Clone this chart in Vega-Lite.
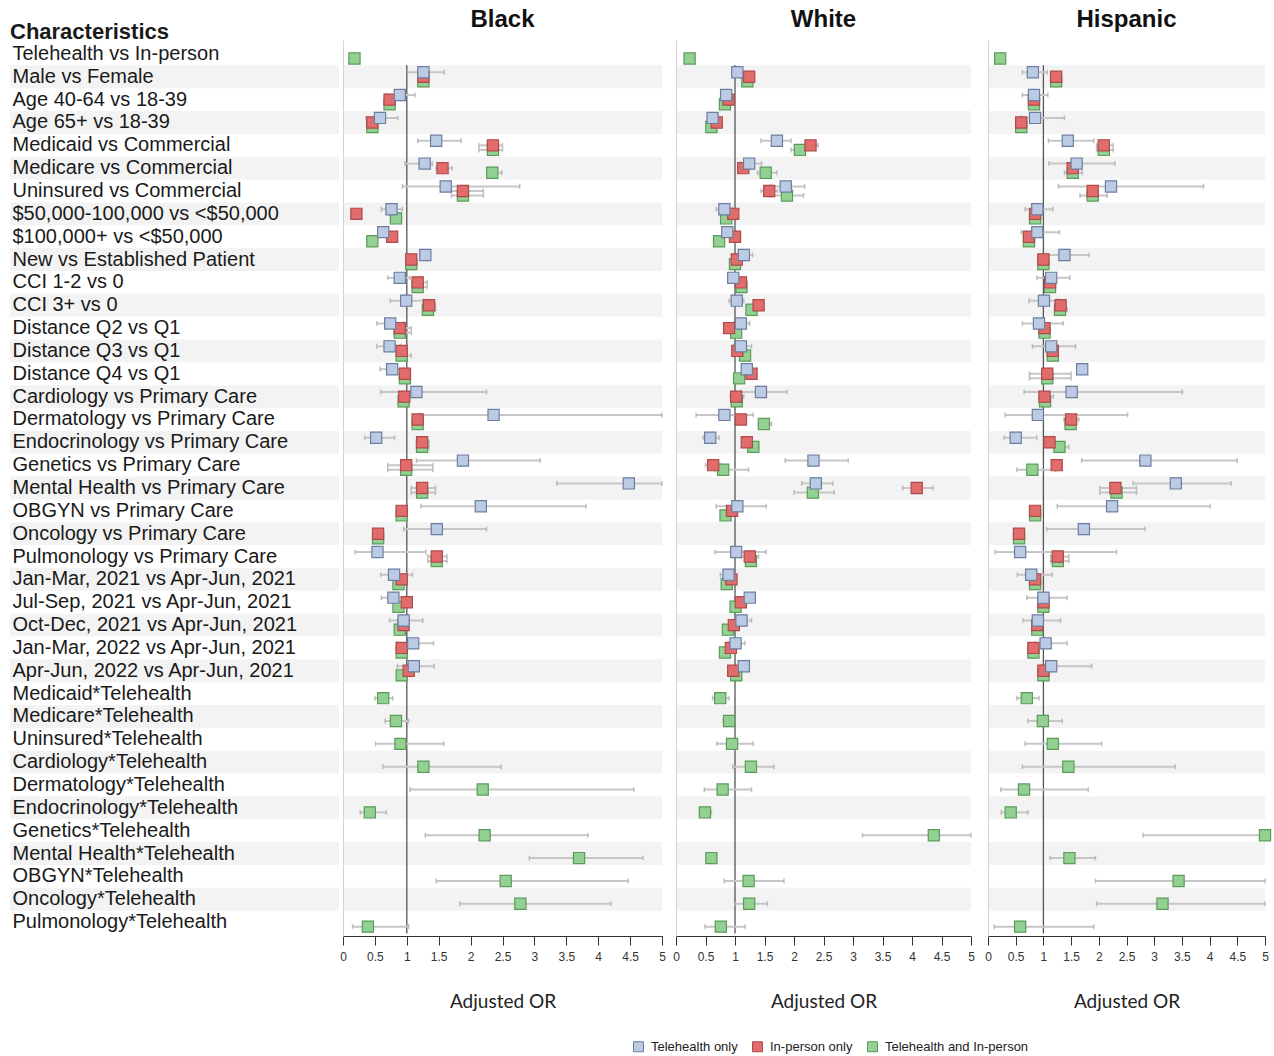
{
  "$schema": "https://vega.github.io/schema/vega-lite/v6.json",
  "padding": {"left": 10, "top": 8, "right": 5, "bottom": 5},
  "spacing": 6,
  "config": {
    "view": {"stroke": null},
    "axisX": {
      "format": "~g",
      "labelFont": "Liberation Sans",
      "labelFontSize": 12,
      "labelColor": "#333",
      "labelFlush": false,
      "labelOverlap": false,
      "labelBound": false,
      "labelPadding": 6,
      "tickColor": "#333",
      "tickSize": 9,
      "domainColor": "#333",
      "grid": false,
      "titleFont": "Lato",
      "titleFontSize": 19,
      "titleFontWeight": "normal",
      "titleColor": "#222",
      "titlePadding": 30
    },
    "title": {
      "font": "Liberation Sans",
      "fontSize": 24,
      "fontWeight": "bold",
      "color": "#111",
      "offset": 8
    }
  },
  "datasets": {
    "stripes": [
      {"c": "Male vs Female"}, {"c": "Age 65+ vs 18-39"}, {"c": "Medicare vs Commercial"},
      {"c": "$50,000-100,000 vs <$50,000"}, {"c": "New vs Established Patient"}, {"c": "CCI 3+ vs 0"},
      {"c": "Distance Q3 vs Q1"}, {"c": "Cardiology vs Primary Care"}, {"c": "Endocrinology vs Primary Care"},
      {"c": "Mental Health vs Primary Care"}, {"c": "Oncology vs Primary Care"}, {"c": "Jan-Mar, 2021 vs Apr-Jun, 2021"},
      {"c": "Oct-Dec, 2021 vs Apr-Jun, 2021"}, {"c": "Apr-Jun, 2022 vs Apr-Jun, 2021"}, {"c": "Medicare*Telehealth"},
      {"c": "Cardiology*Telehealth"}, {"c": "Endocrinology*Telehealth"}, {"c": "Mental Health*Telehealth"},
      {"c": "Oncology*Telehealth"}
    ],
    "black": [
      {"c": "Telehealth vs In-person", "s": "Telehealth and In-person", "or": 0.18},
      {"c": "Male vs Female", "s": "Telehealth and In-person", "or": 1.26, "lo": 1.2, "hi": 1.32},
      {"c": "Male vs Female", "s": "In-person only", "or": 1.26, "lo": 1.2, "hi": 1.32},
      {"c": "Male vs Female", "s": "Telehealth only", "or": 1.26, "lo": 1.01, "hi": 1.59},
      {"c": "Age 40-64 vs 18-39", "s": "Telehealth and In-person", "or": 0.73},
      {"c": "Age 40-64 vs 18-39", "s": "In-person only", "or": 0.73},
      {"c": "Age 40-64 vs 18-39", "s": "Telehealth only", "or": 0.89, "lo": 0.68, "hi": 1.13},
      {"c": "Age 65+ vs 18-39", "s": "Telehealth and In-person", "or": 0.46},
      {"c": "Age 65+ vs 18-39", "s": "In-person only", "or": 0.46},
      {"c": "Age 65+ vs 18-39", "s": "Telehealth only", "or": 0.58, "lo": 0.36, "hi": 0.86},
      {"c": "Medicaid vs Commercial", "s": "Telehealth and In-person", "or": 2.35, "lo": 2.13, "hi": 2.5},
      {"c": "Medicaid vs Commercial", "s": "In-person only", "or": 2.35, "lo": 2.13, "hi": 2.5},
      {"c": "Medicaid vs Commercial", "s": "Telehealth only", "or": 1.46, "lo": 1.17, "hi": 1.85},
      {"c": "Medicare vs Commercial", "s": "Telehealth and In-person", "or": 2.34, "lo": 2.27, "hi": 2.49},
      {"c": "Medicare vs Commercial", "s": "In-person only", "or": 1.56, "lo": 1.46, "hi": 1.71},
      {"c": "Medicare vs Commercial", "s": "Telehealth only", "or": 1.28, "lo": 0.97, "hi": 1.4},
      {"c": "Uninsured vs Commercial", "s": "Telehealth and In-person", "or": 1.88, "lo": 1.7, "hi": 2.2},
      {"c": "Uninsured vs Commercial", "s": "In-person only", "or": 1.88, "lo": 1.7, "hi": 2.2},
      {"c": "Uninsured vs Commercial", "s": "Telehealth only", "or": 1.61, "lo": 0.93, "hi": 2.77},
      {"c": "$50,000-100,000 vs <$50,000", "s": "Telehealth and In-person", "or": 0.83, "lo": 0.76, "hi": 0.92},
      {"c": "$50,000-100,000 vs <$50,000", "s": "In-person only", "or": 0.21},
      {"c": "$50,000-100,000 vs <$50,000", "s": "Telehealth only", "or": 0.76, "lo": 0.6, "hi": 0.93},
      {"c": "$100,000+ vs <$50,000", "s": "Telehealth and In-person", "or": 0.46},
      {"c": "$100,000+ vs <$50,000", "s": "In-person only", "or": 0.77},
      {"c": "$100,000+ vs <$50,000", "s": "Telehealth only", "or": 0.63},
      {"c": "New vs Established Patient", "s": "Telehealth and In-person", "or": 1.07},
      {"c": "New vs Established Patient", "s": "In-person only", "or": 1.07},
      {"c": "New vs Established Patient", "s": "Telehealth only", "or": 1.29},
      {"c": "CCI 1-2 vs 0", "s": "Telehealth and In-person", "or": 1.17, "lo": 1.1, "hi": 1.32},
      {"c": "CCI 1-2 vs 0", "s": "In-person only", "or": 1.17, "lo": 1.1, "hi": 1.32},
      {"c": "CCI 1-2 vs 0", "s": "Telehealth only", "or": 0.89, "lo": 0.7, "hi": 1.05},
      {"c": "CCI 3+ vs 0", "s": "Telehealth and In-person", "or": 1.33, "lo": 1.25, "hi": 1.45},
      {"c": "CCI 3+ vs 0", "s": "In-person only", "or": 1.35, "lo": 1.27, "hi": 1.45},
      {"c": "CCI 3+ vs 0", "s": "Telehealth only", "or": 0.99, "lo": 0.74, "hi": 1.25},
      {"c": "Distance Q2 vs Q1", "s": "Telehealth and In-person", "or": 0.89, "lo": 0.8, "hi": 1.07},
      {"c": "Distance Q2 vs Q1", "s": "In-person only", "or": 0.89, "lo": 0.8, "hi": 1.07},
      {"c": "Distance Q2 vs Q1", "s": "Telehealth only", "or": 0.74, "lo": 0.53, "hi": 0.95},
      {"c": "Distance Q3 vs Q1", "s": "Telehealth and In-person", "or": 0.92, "lo": 0.85, "hi": 1.07},
      {"c": "Distance Q3 vs Q1", "s": "In-person only", "or": 0.92},
      {"c": "Distance Q3 vs Q1", "s": "Telehealth only", "or": 0.73, "lo": 0.53, "hi": 0.9},
      {"c": "Distance Q4 vs Q1", "s": "Telehealth and In-person", "or": 0.97},
      {"c": "Distance Q4 vs Q1", "s": "In-person only", "or": 0.97, "lo": 0.9, "hi": 1.05},
      {"c": "Distance Q4 vs Q1", "s": "Telehealth only", "or": 0.77, "lo": 0.58, "hi": 0.95},
      {"c": "Cardiology vs Primary Care", "s": "Telehealth and In-person", "or": 0.95, "lo": 0.9, "hi": 1.02},
      {"c": "Cardiology vs Primary Care", "s": "In-person only", "or": 0.96},
      {"c": "Cardiology vs Primary Care", "s": "Telehealth only", "or": 1.15, "lo": 0.59, "hi": 2.25},
      {"c": "Dermatology vs Primary Care", "s": "Telehealth and In-person", "or": 1.17, "lo": 1.1, "hi": 1.25},
      {"c": "Dermatology vs Primary Care", "s": "In-person only", "or": 1.17},
      {"c": "Dermatology vs Primary Care", "s": "Telehealth only", "or": 2.36, "lo": 1.2, "hi": 5.0},
      {"c": "Endocrinology vs Primary Care", "s": "Telehealth and In-person", "or": 1.24, "lo": 1.15, "hi": 1.35},
      {"c": "Endocrinology vs Primary Care", "s": "In-person only", "or": 1.24, "lo": 1.15, "hi": 1.35},
      {"c": "Endocrinology vs Primary Care", "s": "Telehealth only", "or": 0.52, "lo": 0.34, "hi": 0.81},
      {"c": "Genetics vs Primary Care", "s": "Telehealth and In-person", "or": 0.99, "lo": 0.7, "hi": 1.41},
      {"c": "Genetics vs Primary Care", "s": "In-person only", "or": 0.99, "lo": 0.7, "hi": 1.41},
      {"c": "Genetics vs Primary Care", "s": "Telehealth only", "or": 1.88, "lo": 1.15, "hi": 3.09},
      {"c": "Mental Health vs Primary Care", "s": "Telehealth and In-person", "or": 1.24, "lo": 1.07, "hi": 1.45},
      {"c": "Mental Health vs Primary Care", "s": "In-person only", "or": 1.24, "lo": 1.07, "hi": 1.45},
      {"c": "Mental Health vs Primary Care", "s": "Telehealth only", "or": 4.48, "lo": 3.35, "hi": 5.0},
      {"c": "OBGYN vs Primary Care", "s": "Telehealth and In-person", "or": 0.92},
      {"c": "OBGYN vs Primary Care", "s": "In-person only", "or": 0.92},
      {"c": "OBGYN vs Primary Care", "s": "Telehealth only", "or": 2.16, "lo": 1.22, "hi": 3.81},
      {"c": "Oncology vs Primary Care", "s": "Telehealth and In-person", "or": 0.55},
      {"c": "Oncology vs Primary Care", "s": "In-person only", "or": 0.55},
      {"c": "Oncology vs Primary Care", "s": "Telehealth only", "or": 1.47, "lo": 0.95, "hi": 2.25},
      {"c": "Pulmonology vs Primary Care", "s": "Telehealth and In-person", "or": 1.47, "lo": 1.33, "hi": 1.63},
      {"c": "Pulmonology vs Primary Care", "s": "In-person only", "or": 1.47, "lo": 1.33, "hi": 1.63},
      {"c": "Pulmonology vs Primary Care", "s": "Telehealth only", "or": 0.54, "lo": 0.19, "hi": 1.3},
      {"c": "Jan-Mar, 2021 vs Apr-Jun, 2021", "s": "Telehealth and In-person", "or": 0.87, "lo": 0.8, "hi": 0.95},
      {"c": "Jan-Mar, 2021 vs Apr-Jun, 2021", "s": "In-person only", "or": 0.92, "lo": 0.85, "hi": 1.0},
      {"c": "Jan-Mar, 2021 vs Apr-Jun, 2021", "s": "Telehealth only", "or": 0.8, "lo": 0.59, "hi": 1.09},
      {"c": "Jul-Sep, 2021 vs Apr-Jun, 2021", "s": "Telehealth and In-person", "or": 0.87},
      {"c": "Jul-Sep, 2021 vs Apr-Jun, 2021", "s": "In-person only", "or": 1.0},
      {"c": "Jul-Sep, 2021 vs Apr-Jun, 2021", "s": "Telehealth only", "or": 0.79, "lo": 0.6, "hi": 0.98},
      {"c": "Oct-Dec, 2021 vs Apr-Jun, 2021", "s": "Telehealth and In-person", "or": 0.89},
      {"c": "Oct-Dec, 2021 vs Apr-Jun, 2021", "s": "In-person only", "or": 0.95},
      {"c": "Oct-Dec, 2021 vs Apr-Jun, 2021", "s": "Telehealth only", "or": 0.95, "lo": 0.73, "hi": 1.25},
      {"c": "Jan-Mar, 2022 vs Apr-Jun, 2021", "s": "Telehealth and In-person", "or": 0.92},
      {"c": "Jan-Mar, 2022 vs Apr-Jun, 2021", "s": "In-person only", "or": 0.92},
      {"c": "Jan-Mar, 2022 vs Apr-Jun, 2021", "s": "Telehealth only", "or": 1.1, "lo": 0.85, "hi": 1.42},
      {"c": "Apr-Jun, 2022 vs Apr-Jun, 2021", "s": "Telehealth and In-person", "or": 0.92},
      {"c": "Apr-Jun, 2022 vs Apr-Jun, 2021", "s": "In-person only", "or": 1.03},
      {"c": "Apr-Jun, 2022 vs Apr-Jun, 2021", "s": "Telehealth only", "or": 1.11, "lo": 0.85, "hi": 1.43},
      {"c": "Medicaid*Telehealth", "s": "Telehealth and In-person", "or": 0.63, "lo": 0.5, "hi": 0.78},
      {"c": "Medicare*Telehealth", "s": "Telehealth and In-person", "or": 0.83, "lo": 0.66, "hi": 1.03},
      {"c": "Uninsured*Telehealth", "s": "Telehealth and In-person", "or": 0.9, "lo": 0.51, "hi": 1.58},
      {"c": "Cardiology*Telehealth", "s": "Telehealth and In-person", "or": 1.26, "lo": 0.63, "hi": 2.48},
      {"c": "Dermatology*Telehealth", "s": "Telehealth and In-person", "or": 2.19, "lo": 1.05, "hi": 4.56},
      {"c": "Endocrinology*Telehealth", "s": "Telehealth and In-person", "or": 0.42, "lo": 0.27, "hi": 0.68},
      {"c": "Genetics*Telehealth", "s": "Telehealth and In-person", "or": 2.22, "lo": 1.29, "hi": 3.84},
      {"c": "Mental Health*Telehealth", "s": "Telehealth and In-person", "or": 3.7, "lo": 2.92, "hi": 4.7},
      {"c": "OBGYN*Telehealth", "s": "Telehealth and In-person", "or": 2.55, "lo": 1.46, "hi": 4.47},
      {"c": "Oncology*Telehealth", "s": "Telehealth and In-person", "or": 2.78, "lo": 1.83, "hi": 4.2},
      {"c": "Pulmonology*Telehealth", "s": "Telehealth and In-person", "or": 0.39, "lo": 0.15, "hi": 1.03}
    ],
    "white": [
      {"c": "Telehealth vs In-person", "s": "Telehealth and In-person", "or": 0.23},
      {"c": "Male vs Female", "s": "Telehealth and In-person", "or": 1.21},
      {"c": "Male vs Female", "s": "In-person only", "or": 1.24},
      {"c": "Male vs Female", "s": "Telehealth only", "or": 1.04, "lo": 0.95, "hi": 1.1},
      {"c": "Age 40-64 vs 18-39", "s": "Telehealth and In-person", "or": 0.83},
      {"c": "Age 40-64 vs 18-39", "s": "In-person only", "or": 0.89},
      {"c": "Age 40-64 vs 18-39", "s": "Telehealth only", "or": 0.85},
      {"c": "Age 65+ vs 18-39", "s": "Telehealth and In-person", "or": 0.6},
      {"c": "Age 65+ vs 18-39", "s": "In-person only", "or": 0.69},
      {"c": "Age 65+ vs 18-39", "s": "Telehealth only", "or": 0.62, "lo": 0.55, "hi": 0.68},
      {"c": "Medicaid vs Commercial", "s": "Telehealth and In-person", "or": 2.1, "lo": 1.95, "hi": 2.2},
      {"c": "Medicaid vs Commercial", "s": "In-person only", "or": 2.28, "lo": 2.21, "hi": 2.41},
      {"c": "Medicaid vs Commercial", "s": "Telehealth only", "or": 1.71, "lo": 1.44, "hi": 1.95},
      {"c": "Medicare vs Commercial", "s": "Telehealth and In-person", "or": 1.52, "lo": 1.38, "hi": 1.71},
      {"c": "Medicare vs Commercial", "s": "In-person only", "or": 1.14, "lo": 1.05, "hi": 1.25},
      {"c": "Medicare vs Commercial", "s": "Telehealth only", "or": 1.24, "lo": 1.1, "hi": 1.45},
      {"c": "Uninsured vs Commercial", "s": "Telehealth and In-person", "or": 1.88, "lo": 1.6, "hi": 2.16},
      {"c": "Uninsured vs Commercial", "s": "In-person only", "or": 1.58, "lo": 1.44, "hi": 1.72},
      {"c": "Uninsured vs Commercial", "s": "Telehealth only", "or": 1.86, "lo": 1.6, "hi": 2.18},
      {"c": "$50,000-100,000 vs <$50,000", "s": "Telehealth and In-person", "or": 0.85},
      {"c": "$50,000-100,000 vs <$50,000", "s": "In-person only", "or": 0.97},
      {"c": "$50,000-100,000 vs <$50,000", "s": "Telehealth only", "or": 0.82, "lo": 0.68, "hi": 0.95},
      {"c": "$100,000+ vs <$50,000", "s": "Telehealth and In-person", "or": 0.73},
      {"c": "$100,000+ vs <$50,000", "s": "In-person only", "or": 1.0},
      {"c": "$100,000+ vs <$50,000", "s": "Telehealth only", "or": 0.87},
      {"c": "New vs Established Patient", "s": "Telehealth and In-person", "or": 1.0},
      {"c": "New vs Established Patient", "s": "In-person only", "or": 1.03},
      {"c": "New vs Established Patient", "s": "Telehealth only", "or": 1.15, "lo": 1.05, "hi": 1.3},
      {"c": "CCI 1-2 vs 0", "s": "Telehealth and In-person", "or": 1.11},
      {"c": "CCI 1-2 vs 0", "s": "In-person only", "or": 1.1},
      {"c": "CCI 1-2 vs 0", "s": "Telehealth only", "or": 0.97},
      {"c": "CCI 3+ vs 0", "s": "Telehealth and In-person", "or": 1.28},
      {"c": "CCI 3+ vs 0", "s": "In-person only", "or": 1.4},
      {"c": "CCI 3+ vs 0", "s": "Telehealth only", "or": 1.03, "lo": 0.9, "hi": 1.15},
      {"c": "Distance Q2 vs Q1", "s": "Telehealth and In-person", "or": 1.02},
      {"c": "Distance Q2 vs Q1", "s": "In-person only", "or": 0.9},
      {"c": "Distance Q2 vs Q1", "s": "Telehealth only", "or": 1.1, "lo": 0.98, "hi": 1.25},
      {"c": "Distance Q3 vs Q1", "s": "Telehealth and In-person", "or": 1.17},
      {"c": "Distance Q3 vs Q1", "s": "In-person only", "or": 1.04},
      {"c": "Distance Q3 vs Q1", "s": "Telehealth only", "or": 1.1, "lo": 0.98, "hi": 1.28},
      {"c": "Distance Q4 vs Q1", "s": "Telehealth and In-person", "or": 1.07},
      {"c": "Distance Q4 vs Q1", "s": "In-person only", "or": 1.28},
      {"c": "Distance Q4 vs Q1", "s": "Telehealth only", "or": 1.2},
      {"c": "Cardiology vs Primary Care", "s": "Telehealth and In-person", "or": 1.03},
      {"c": "Cardiology vs Primary Care", "s": "In-person only", "or": 1.02, "lo": 0.92, "hi": 1.15},
      {"c": "Cardiology vs Primary Care", "s": "Telehealth only", "or": 1.44, "lo": 1.1, "hi": 1.88},
      {"c": "Dermatology vs Primary Care", "s": "Telehealth and In-person", "or": 1.49, "lo": 1.4, "hi": 1.62},
      {"c": "Dermatology vs Primary Care", "s": "In-person only", "or": 1.1},
      {"c": "Dermatology vs Primary Care", "s": "Telehealth only", "or": 0.82, "lo": 0.34, "hi": 1.31},
      {"c": "Endocrinology vs Primary Care", "s": "Telehealth and In-person", "or": 1.31, "lo": 1.25, "hi": 1.4},
      {"c": "Endocrinology vs Primary Care", "s": "In-person only", "or": 1.2},
      {"c": "Endocrinology vs Primary Care", "s": "Telehealth only", "or": 0.58, "lo": 0.46, "hi": 0.73},
      {"c": "Genetics vs Primary Care", "s": "Telehealth and In-person", "or": 0.8, "lo": 0.65, "hi": 1.23},
      {"c": "Genetics vs Primary Care", "s": "In-person only", "or": 0.63, "lo": 0.5, "hi": 0.75},
      {"c": "Genetics vs Primary Care", "s": "Telehealth only", "or": 2.33, "lo": 1.85, "hi": 2.92},
      {"c": "Mental Health vs Primary Care", "s": "Telehealth and In-person", "or": 2.32, "lo": 2.0, "hi": 2.68},
      {"c": "Mental Health vs Primary Care", "s": "In-person only", "or": 4.08, "lo": 3.84, "hi": 4.36},
      {"c": "Mental Health vs Primary Care", "s": "Telehealth only", "or": 2.37, "lo": 2.13, "hi": 2.66},
      {"c": "OBGYN vs Primary Care", "s": "Telehealth and In-person", "or": 0.84},
      {"c": "OBGYN vs Primary Care", "s": "In-person only", "or": 0.95},
      {"c": "OBGYN vs Primary Care", "s": "Telehealth only", "or": 1.04, "lo": 0.68, "hi": 1.53},
      {"c": "Pulmonology vs Primary Care", "s": "Telehealth and In-person", "or": 1.27},
      {"c": "Pulmonology vs Primary Care", "s": "In-person only", "or": 1.25, "lo": 1.1, "hi": 1.4},
      {"c": "Pulmonology vs Primary Care", "s": "Telehealth only", "or": 1.02, "lo": 0.66, "hi": 1.53},
      {"c": "Jan-Mar, 2021 vs Apr-Jun, 2021", "s": "Telehealth and In-person", "or": 0.86},
      {"c": "Jan-Mar, 2021 vs Apr-Jun, 2021", "s": "In-person only", "or": 0.94},
      {"c": "Jan-Mar, 2021 vs Apr-Jun, 2021", "s": "Telehealth only", "or": 0.89, "lo": 0.75, "hi": 1.0},
      {"c": "Jul-Sep, 2021 vs Apr-Jun, 2021", "s": "Telehealth and In-person", "or": 1.01},
      {"c": "Jul-Sep, 2021 vs Apr-Jun, 2021", "s": "In-person only", "or": 1.1},
      {"c": "Jul-Sep, 2021 vs Apr-Jun, 2021", "s": "Telehealth only", "or": 1.25},
      {"c": "Oct-Dec, 2021 vs Apr-Jun, 2021", "s": "Telehealth and In-person", "or": 0.88},
      {"c": "Oct-Dec, 2021 vs Apr-Jun, 2021", "s": "In-person only", "or": 0.98},
      {"c": "Oct-Dec, 2021 vs Apr-Jun, 2021", "s": "Telehealth only", "or": 1.11, "lo": 1.0, "hi": 1.28},
      {"c": "Jan-Mar, 2022 vs Apr-Jun, 2021", "s": "Telehealth and In-person", "or": 0.83},
      {"c": "Jan-Mar, 2022 vs Apr-Jun, 2021", "s": "In-person only", "or": 0.93},
      {"c": "Jan-Mar, 2022 vs Apr-Jun, 2021", "s": "Telehealth only", "or": 1.01, "lo": 0.9, "hi": 1.17},
      {"c": "Apr-Jun, 2022 vs Apr-Jun, 2021", "s": "Telehealth and In-person", "or": 1.02},
      {"c": "Apr-Jun, 2022 vs Apr-Jun, 2021", "s": "In-person only", "or": 0.97},
      {"c": "Apr-Jun, 2022 vs Apr-Jun, 2021", "s": "Telehealth only", "or": 1.15},
      {"c": "Medicaid*Telehealth", "s": "Telehealth and In-person", "or": 0.75, "lo": 0.62, "hi": 0.9},
      {"c": "Medicare*Telehealth", "s": "Telehealth and In-person", "or": 0.9, "lo": 0.8, "hi": 1.0},
      {"c": "Uninsured*Telehealth", "s": "Telehealth and In-person", "or": 0.95, "lo": 0.69, "hi": 1.31},
      {"c": "Cardiology*Telehealth", "s": "Telehealth and In-person", "or": 1.27, "lo": 0.96, "hi": 1.66},
      {"c": "Dermatology*Telehealth", "s": "Telehealth and In-person", "or": 0.79, "lo": 0.48, "hi": 1.28},
      {"c": "Endocrinology*Telehealth", "s": "Telehealth and In-person", "or": 0.49, "lo": 0.4, "hi": 0.6},
      {"c": "Genetics*Telehealth", "s": "Telehealth and In-person", "or": 4.37, "lo": 3.16, "hi": 5.0},
      {"c": "Mental Health*Telehealth", "s": "Telehealth and In-person", "or": 0.6},
      {"c": "OBGYN*Telehealth", "s": "Telehealth and In-person", "or": 1.23, "lo": 0.82, "hi": 1.83},
      {"c": "Oncology*Telehealth", "s": "Telehealth and In-person", "or": 1.24, "lo": 1.0, "hi": 1.55},
      {"c": "Pulmonology*Telehealth", "s": "Telehealth and In-person", "or": 0.76, "lo": 0.49, "hi": 1.17}
    ],
    "hispanic": [
      {"c": "Telehealth vs In-person", "s": "Telehealth and In-person", "or": 0.22},
      {"c": "Male vs Female", "s": "Telehealth and In-person", "or": 1.23},
      {"c": "Male vs Female", "s": "In-person only", "or": 1.23},
      {"c": "Male vs Female", "s": "Telehealth only", "or": 0.81, "lo": 0.62, "hi": 1.07},
      {"c": "Age 40-64 vs 18-39", "s": "Telehealth and In-person", "or": 0.83},
      {"c": "Age 40-64 vs 18-39", "s": "In-person only", "or": 0.83},
      {"c": "Age 40-64 vs 18-39", "s": "Telehealth only", "or": 0.83, "lo": 0.62, "hi": 1.08},
      {"c": "Age 65+ vs 18-39", "s": "Telehealth and In-person", "or": 0.6},
      {"c": "Age 65+ vs 18-39", "s": "In-person only", "or": 0.6},
      {"c": "Age 65+ vs 18-39", "s": "Telehealth only", "or": 0.85, "lo": 0.6, "hi": 1.38},
      {"c": "Medicaid vs Commercial", "s": "Telehealth and In-person", "or": 2.09, "lo": 1.96, "hi": 2.26},
      {"c": "Medicaid vs Commercial", "s": "In-person only", "or": 2.09, "lo": 1.96, "hi": 2.26},
      {"c": "Medicaid vs Commercial", "s": "Telehealth only", "or": 1.44, "lo": 1.09, "hi": 1.91},
      {"c": "Medicare vs Commercial", "s": "Telehealth and In-person", "or": 1.53, "lo": 1.38, "hi": 1.7},
      {"c": "Medicare vs Commercial", "s": "In-person only", "or": 1.53},
      {"c": "Medicare vs Commercial", "s": "Telehealth only", "or": 1.6, "lo": 1.1, "hi": 2.29},
      {"c": "Uninsured vs Commercial", "s": "Telehealth and In-person", "or": 1.89, "lo": 1.66, "hi": 2.15},
      {"c": "Uninsured vs Commercial", "s": "In-person only", "or": 1.89},
      {"c": "Uninsured vs Commercial", "s": "Telehealth only", "or": 2.22, "lo": 1.27, "hi": 3.89},
      {"c": "$50,000-100,000 vs <$50,000", "s": "Telehealth and In-person", "or": 0.85},
      {"c": "$50,000-100,000 vs <$50,000", "s": "In-person only", "or": 0.85},
      {"c": "$50,000-100,000 vs <$50,000", "s": "Telehealth only", "or": 0.89, "lo": 0.67, "hi": 1.17},
      {"c": "$100,000+ vs <$50,000", "s": "Telehealth and In-person", "or": 0.74},
      {"c": "$100,000+ vs <$50,000", "s": "In-person only", "or": 0.74},
      {"c": "$100,000+ vs <$50,000", "s": "Telehealth only", "or": 0.89, "lo": 0.6, "hi": 1.29},
      {"c": "New vs Established Patient", "s": "Telehealth and In-person", "or": 1.0},
      {"c": "New vs Established Patient", "s": "In-person only", "or": 1.0},
      {"c": "New vs Established Patient", "s": "Telehealth only", "or": 1.38, "lo": 1.05, "hi": 1.82},
      {"c": "CCI 1-2 vs 0", "s": "Telehealth and In-person", "or": 1.12},
      {"c": "CCI 1-2 vs 0", "s": "In-person only", "or": 1.12},
      {"c": "CCI 1-2 vs 0", "s": "Telehealth only", "or": 1.14, "lo": 0.88, "hi": 1.48},
      {"c": "CCI 3+ vs 0", "s": "Telehealth and In-person", "or": 1.3, "lo": 1.24, "hi": 1.43},
      {"c": "CCI 3+ vs 0", "s": "In-person only", "or": 1.31},
      {"c": "CCI 3+ vs 0", "s": "Telehealth only", "or": 1.01, "lo": 0.74, "hi": 1.25},
      {"c": "Distance Q2 vs Q1", "s": "Telehealth and In-person", "or": 1.02},
      {"c": "Distance Q2 vs Q1", "s": "In-person only", "or": 1.02},
      {"c": "Distance Q2 vs Q1", "s": "Telehealth only", "or": 0.92, "lo": 0.62, "hi": 1.36},
      {"c": "Distance Q3 vs Q1", "s": "Telehealth and In-person", "or": 1.17},
      {"c": "Distance Q3 vs Q1", "s": "In-person only", "or": 1.17},
      {"c": "Distance Q3 vs Q1", "s": "Telehealth only", "or": 1.14, "lo": 0.8, "hi": 1.58},
      {"c": "Distance Q4 vs Q1", "s": "Telehealth and In-person", "or": 1.07, "lo": 0.75, "hi": 1.5},
      {"c": "Distance Q4 vs Q1", "s": "In-person only", "or": 1.07, "lo": 0.75, "hi": 1.5},
      {"c": "Distance Q4 vs Q1", "s": "Telehealth only", "or": 1.7},
      {"c": "Cardiology vs Primary Care", "s": "Telehealth and In-person", "or": 1.03},
      {"c": "Cardiology vs Primary Care", "s": "In-person only", "or": 1.02, "lo": 0.92, "hi": 1.18},
      {"c": "Cardiology vs Primary Care", "s": "Telehealth only", "or": 1.51, "lo": 0.65, "hi": 3.51},
      {"c": "Dermatology vs Primary Care", "s": "Telehealth and In-person", "or": 1.49},
      {"c": "Dermatology vs Primary Care", "s": "In-person only", "or": 1.5, "lo": 1.37, "hi": 1.64},
      {"c": "Dermatology vs Primary Care", "s": "Telehealth only", "or": 0.9, "lo": 0.31, "hi": 2.52},
      {"c": "Endocrinology vs Primary Care", "s": "Telehealth and In-person", "or": 1.29, "lo": 1.2, "hi": 1.46},
      {"c": "Endocrinology vs Primary Care", "s": "In-person only", "or": 1.11},
      {"c": "Endocrinology vs Primary Care", "s": "Telehealth only", "or": 0.5, "lo": 0.29, "hi": 0.88},
      {"c": "Genetics vs Primary Care", "s": "Telehealth and In-person", "or": 0.8, "lo": 0.52, "hi": 1.22},
      {"c": "Genetics vs Primary Care", "s": "In-person only", "or": 1.24},
      {"c": "Genetics vs Primary Care", "s": "Telehealth only", "or": 2.84, "lo": 1.69, "hi": 4.5},
      {"c": "Mental Health vs Primary Care", "s": "Telehealth and In-person", "or": 2.32, "lo": 2.02, "hi": 2.68},
      {"c": "Mental Health vs Primary Care", "s": "In-person only", "or": 2.3, "lo": 2.02, "hi": 2.68},
      {"c": "Mental Health vs Primary Care", "s": "Telehealth only", "or": 3.39, "lo": 2.62, "hi": 4.39},
      {"c": "OBGYN vs Primary Care", "s": "Telehealth and In-person", "or": 0.85},
      {"c": "OBGYN vs Primary Care", "s": "In-person only", "or": 0.85},
      {"c": "OBGYN vs Primary Care", "s": "Telehealth only", "or": 2.24, "lo": 1.25, "hi": 4.01},
      {"c": "Oncology vs Primary Care", "s": "Telehealth and In-person", "or": 0.56},
      {"c": "Oncology vs Primary Care", "s": "In-person only", "or": 0.56},
      {"c": "Oncology vs Primary Care", "s": "Telehealth only", "or": 1.73, "lo": 1.06, "hi": 2.83},
      {"c": "Pulmonology vs Primary Care", "s": "Telehealth and In-person", "or": 1.26, "lo": 1.13, "hi": 1.46},
      {"c": "Pulmonology vs Primary Care", "s": "In-person only", "or": 1.26, "lo": 1.13, "hi": 1.46},
      {"c": "Pulmonology vs Primary Care", "s": "Telehealth only", "or": 0.58, "lo": 0.13, "hi": 2.32},
      {"c": "Jan-Mar, 2021 vs Apr-Jun, 2021", "s": "Telehealth and In-person", "or": 0.85},
      {"c": "Jan-Mar, 2021 vs Apr-Jun, 2021", "s": "In-person only", "or": 0.85},
      {"c": "Jan-Mar, 2021 vs Apr-Jun, 2021", "s": "Telehealth only", "or": 0.78, "lo": 0.53, "hi": 1.16},
      {"c": "Jul-Sep, 2021 vs Apr-Jun, 2021", "s": "Telehealth and In-person", "or": 1.0},
      {"c": "Jul-Sep, 2021 vs Apr-Jun, 2021", "s": "In-person only", "or": 1.0},
      {"c": "Jul-Sep, 2021 vs Apr-Jun, 2021", "s": "Telehealth only", "or": 1.0, "lo": 0.7, "hi": 1.43},
      {"c": "Oct-Dec, 2021 vs Apr-Jun, 2021", "s": "Telehealth and In-person", "or": 0.89},
      {"c": "Oct-Dec, 2021 vs Apr-Jun, 2021", "s": "In-person only", "or": 0.89},
      {"c": "Oct-Dec, 2021 vs Apr-Jun, 2021", "s": "Telehealth only", "or": 0.9, "lo": 0.63, "hi": 1.31},
      {"c": "Jan-Mar, 2022 vs Apr-Jun, 2021", "s": "Telehealth and In-person", "or": 0.82},
      {"c": "Jan-Mar, 2022 vs Apr-Jun, 2021", "s": "In-person only", "or": 0.82},
      {"c": "Jan-Mar, 2022 vs Apr-Jun, 2021", "s": "Telehealth only", "or": 1.04, "lo": 0.85, "hi": 1.43},
      {"c": "Apr-Jun, 2022 vs Apr-Jun, 2021", "s": "Telehealth and In-person", "or": 1.0},
      {"c": "Apr-Jun, 2022 vs Apr-Jun, 2021", "s": "In-person only", "or": 1.0},
      {"c": "Apr-Jun, 2022 vs Apr-Jun, 2021", "s": "Telehealth only", "or": 1.14, "lo": 0.95, "hi": 1.87},
      {"c": "Medicaid*Telehealth", "s": "Telehealth and In-person", "or": 0.7, "lo": 0.52, "hi": 0.92},
      {"c": "Medicare*Telehealth", "s": "Telehealth and In-person", "or": 0.99, "lo": 0.72, "hi": 1.34},
      {"c": "Uninsured*Telehealth", "s": "Telehealth and In-person", "or": 1.17, "lo": 0.67, "hi": 2.05},
      {"c": "Cardiology*Telehealth", "s": "Telehealth and In-person", "or": 1.45, "lo": 0.62, "hi": 3.38},
      {"c": "Dermatology*Telehealth", "s": "Telehealth and In-person", "or": 0.65, "lo": 0.23, "hi": 1.81},
      {"c": "Endocrinology*Telehealth", "s": "Telehealth and In-person", "or": 0.41, "lo": 0.24, "hi": 0.72},
      {"c": "Genetics*Telehealth", "s": "Telehealth and In-person", "or": 5.0, "lo": 2.8, "hi": 5.0},
      {"c": "Mental Health*Telehealth", "s": "Telehealth and In-person", "or": 1.47, "lo": 1.12, "hi": 1.94},
      {"c": "OBGYN*Telehealth", "s": "Telehealth and In-person", "or": 3.44, "lo": 1.94, "hi": 5.0},
      {"c": "Oncology*Telehealth", "s": "Telehealth and In-person", "or": 3.15, "lo": 1.96, "hi": 5.0},
      {"c": "Pulmonology*Telehealth", "s": "Telehealth and In-person", "or": 0.58, "lo": 0.11, "hi": 1.91}
    ]
  },
  "hconcat": [
    {
      "spacing": 0,
      "hconcat": [
        {
          "width": 329,
          "height": 896,
          "title": {"text": "Characteristics", "anchor": "start", "font": "Liberation Sans", "fontSize": 22, "fontWeight": "bold", "color": "#1a1a1a", "offset": -4},
          "data": {"name": "stripes"},
          "mark": {"type": "rect", "color": "#f3f3f3"},
          "encoding": {
            "y": {
              "field": "c", "type": "nominal",
              "scale": {"paddingInner": 0, "paddingOuter": 0.11, "domain": ["Telehealth vs In-person","Male vs Female","Age 40-64 vs 18-39","Age 65+ vs 18-39","Medicaid vs Commercial","Medicare vs Commercial","Uninsured vs Commercial","$50,000-100,000 vs <$50,000","$100,000+ vs <$50,000","New vs Established Patient","CCI 1-2 vs 0","CCI 3+ vs 0","Distance Q2 vs Q1","Distance Q3 vs Q1","Distance Q4 vs Q1","Cardiology vs Primary Care","Dermatology vs Primary Care","Endocrinology vs Primary Care","Genetics vs Primary Care","Mental Health vs Primary Care","OBGYN vs Primary Care","Oncology vs Primary Care","Pulmonology vs Primary Care","Jan-Mar, 2021 vs Apr-Jun, 2021","Jul-Sep, 2021 vs Apr-Jun, 2021","Oct-Dec, 2021 vs Apr-Jun, 2021","Jan-Mar, 2022 vs Apr-Jun, 2021","Apr-Jun, 2022 vs Apr-Jun, 2021","Medicaid*Telehealth","Medicare*Telehealth","Uninsured*Telehealth","Cardiology*Telehealth","Dermatology*Telehealth","Endocrinology*Telehealth","Genetics*Telehealth","Mental Health*Telehealth","OBGYN*Telehealth","Oncology*Telehealth","Pulmonology*Telehealth"]},
              "axis": {"orient": "left", "domain": false, "ticks": false, "labelAlign": "left", "labelPadding": -2, "labelFont": "Liberation Sans", "labelFontSize": 20, "labelColor": "#1a1a1a", "labelLimit": 400, "zindex": 1, "title": null, "labelBaseline": "middle"}
            }
          }
        },
        {
          "width": 319,
          "height": 896,
          "title": "Black",
          "data": {"name": "black"},
          "encoding": {
            "y": {
              "field": "c", "type": "nominal",
              "scale": {"paddingInner": 0, "paddingOuter": 0.11, "domain": ["Telehealth vs In-person","Male vs Female","Age 40-64 vs 18-39","Age 65+ vs 18-39","Medicaid vs Commercial","Medicare vs Commercial","Uninsured vs Commercial","$50,000-100,000 vs <$50,000","$100,000+ vs <$50,000","New vs Established Patient","CCI 1-2 vs 0","CCI 3+ vs 0","Distance Q2 vs Q1","Distance Q3 vs Q1","Distance Q4 vs Q1","Cardiology vs Primary Care","Dermatology vs Primary Care","Endocrinology vs Primary Care","Genetics vs Primary Care","Mental Health vs Primary Care","OBGYN vs Primary Care","Oncology vs Primary Care","Pulmonology vs Primary Care","Jan-Mar, 2021 vs Apr-Jun, 2021","Jul-Sep, 2021 vs Apr-Jun, 2021","Oct-Dec, 2021 vs Apr-Jun, 2021","Jan-Mar, 2022 vs Apr-Jun, 2021","Apr-Jun, 2022 vs Apr-Jun, 2021","Medicaid*Telehealth","Medicare*Telehealth","Uninsured*Telehealth","Cardiology*Telehealth","Dermatology*Telehealth","Endocrinology*Telehealth","Genetics*Telehealth","Mental Health*Telehealth","OBGYN*Telehealth","Oncology*Telehealth","Pulmonology*Telehealth"]},
              "axis": {"labels": false, "ticks": false, "title": null, "domainColor": "#d4d4d4"}
            }
          },
          "layer": [
            {"data": {"name": "stripes"}, "mark": {"type": "rect", "color": "#f3f3f3"}},
            {
              "data": {"values": [{}]},
              "mark": {"type": "rule", "color": "#555", "strokeWidth": 1.3},
              "encoding": {
                "x": {"datum": 1, "type": "quantitative", "scale": {"domain": [0, 5], "nice": false, "zero": false}, "title": "Adjusted OR", "axis": {"values": [0, 0.5, 1, 1.5, 2, 2.5, 3, 3.5, 4, 4.5, 5], "labelOverlap": false, "labelBound": false, "labelFlush": false}},
                "y": {"datum": "Male vs Female", "type": "nominal", "bandPosition": 0},
                "y2": {"datum": "Pulmonology*Telehealth", "bandPosition": 1}
              }
            },
            {
              "transform": [{"filter": "datum.lo != null"}],
              "mark": {"type": "rule", "color": "#c6c6c6", "strokeWidth": 2},
              "encoding": {
                "x": {"field": "lo", "type": "quantitative", "scale": {"domain": [0, 5], "nice": false, "zero": false}, "title": "Adjusted OR", "axis": {"values": [0, 0.5, 1, 1.5, 2, 2.5, 3, 3.5, 4, 4.5, 5], "labelOverlap": false, "labelBound": false, "labelFlush": false}},
                "x2": {"field": "hi"},
                "yOffset": {"field": "s", "type": "nominal", "scale": {"domain": ["Telehealth only", "In-person only", "Telehealth and In-person"], "paddingOuter": 2.3, "paddingInner": 0}}
              }
            },
            {
              "transform": [{"filter": "datum.lo != null"}],
              "mark": {"type": "tick", "orient": "vertical", "color": "#aaa", "size": 5, "thickness": 1.5},
              "encoding": {
                "x": {"field": "lo", "type": "quantitative", "scale": {"domain": [0, 5], "nice": false, "zero": false}, "title": "Adjusted OR", "axis": {"values": [0, 0.5, 1, 1.5, 2, 2.5, 3, 3.5, 4, 4.5, 5], "labelOverlap": false, "labelBound": false, "labelFlush": false}},
                "yOffset": {"field": "s", "type": "nominal"}
              }
            },
            {
              "transform": [{"filter": "datum.lo != null"}],
              "mark": {"type": "tick", "orient": "vertical", "color": "#aaa", "size": 5, "thickness": 1.5},
              "encoding": {
                "x": {"field": "hi", "type": "quantitative", "scale": {"domain": [0, 5], "nice": false, "zero": false}, "title": "Adjusted OR", "axis": {"values": [0, 0.5, 1, 1.5, 2, 2.5, 3, 3.5, 4, 4.5, 5], "labelOverlap": false, "labelBound": false, "labelFlush": false}},
                "yOffset": {"field": "s", "type": "nominal"}
              }
            },
            {
              "mark": {"type": "square", "size": 125, "filled": true, "opacity": 1, "strokeWidth": 1.2},
              "encoding": {
                "x": {"field": "or", "type": "quantitative", "scale": {"domain": [0, 5], "nice": false, "zero": false}, "title": "Adjusted OR", "axis": {"values": [0, 0.5, 1, 1.5, 2, 2.5, 3, 3.5, 4, 4.5, 5], "labelOverlap": false, "labelBound": false, "labelFlush": false}},
                "yOffset": {"field": "s", "type": "nominal"},
                "color": {
                  "field": "s", "type": "nominal",
                  "scale": {"domain": ["Telehealth only", "In-person only", "Telehealth and In-person"], "range": ["#bccbe4", "#e26c6c", "#93d193"]},
                  "legend": {"orient": "none", "legendX": 622, "legendY": 1000, "direction": "horizontal", "title": null, "symbolType": "square", "symbolSize": 100, "symbolStrokeColor": "#7b8aa8", "symbolStrokeWidth": 1, "labelFont": "Liberation Sans", "labelFontSize": 13, "labelColor": "#222", "columnPadding": 12, "labelOffset": 6}
                },
                "stroke": {
                  "field": "s", "type": "nominal",
                  "scale": {"domain": ["Telehealth only", "In-person only", "Telehealth and In-person"], "range": ["#6d7da0", "#ad4b4b", "#5a9b5a"]},
                  "legend": null
                }
              }
            }
          ]
        }
      ]
    },
    {
      "spacing": 9,
      "hconcat": [
        {
          "width": 295,
          "height": 896,
          "title": "White",
          "data": {"name": "white"},
          "encoding": {
            "y": {
              "field": "c", "type": "nominal",
              "scale": {"paddingInner": 0, "paddingOuter": 0.11, "domain": ["Telehealth vs In-person","Male vs Female","Age 40-64 vs 18-39","Age 65+ vs 18-39","Medicaid vs Commercial","Medicare vs Commercial","Uninsured vs Commercial","$50,000-100,000 vs <$50,000","$100,000+ vs <$50,000","New vs Established Patient","CCI 1-2 vs 0","CCI 3+ vs 0","Distance Q2 vs Q1","Distance Q3 vs Q1","Distance Q4 vs Q1","Cardiology vs Primary Care","Dermatology vs Primary Care","Endocrinology vs Primary Care","Genetics vs Primary Care","Mental Health vs Primary Care","OBGYN vs Primary Care","Oncology vs Primary Care","Pulmonology vs Primary Care","Jan-Mar, 2021 vs Apr-Jun, 2021","Jul-Sep, 2021 vs Apr-Jun, 2021","Oct-Dec, 2021 vs Apr-Jun, 2021","Jan-Mar, 2022 vs Apr-Jun, 2021","Apr-Jun, 2022 vs Apr-Jun, 2021","Medicaid*Telehealth","Medicare*Telehealth","Uninsured*Telehealth","Cardiology*Telehealth","Dermatology*Telehealth","Endocrinology*Telehealth","Genetics*Telehealth","Mental Health*Telehealth","OBGYN*Telehealth","Oncology*Telehealth","Pulmonology*Telehealth"]},
              "axis": {"labels": false, "ticks": false, "title": null, "domainColor": "#d4d4d4"}
            }
          },
          "layer": [
            {"data": {"name": "stripes"}, "mark": {"type": "rect", "color": "#f3f3f3"}},
            {
              "data": {"values": [{}]},
              "mark": {"type": "rule", "color": "#555", "strokeWidth": 1.3},
              "encoding": {
                "x": {"datum": 1, "type": "quantitative", "scale": {"domain": [0, 5], "nice": false, "zero": false}, "title": "Adjusted OR", "axis": {"values": [0, 0.5, 1, 1.5, 2, 2.5, 3, 3.5, 4, 4.5, 5], "labelOverlap": false, "labelBound": false, "labelFlush": false}},
                "y": {"datum": "Male vs Female", "type": "nominal", "bandPosition": 0},
                "y2": {"datum": "Pulmonology*Telehealth", "bandPosition": 1}
              }
            },
            {
              "transform": [{"filter": "datum.lo != null"}],
              "mark": {"type": "rule", "color": "#c6c6c6", "strokeWidth": 2},
              "encoding": {
                "x": {"field": "lo", "type": "quantitative", "scale": {"domain": [0, 5], "nice": false, "zero": false}, "title": "Adjusted OR", "axis": {"values": [0, 0.5, 1, 1.5, 2, 2.5, 3, 3.5, 4, 4.5, 5], "labelOverlap": false, "labelBound": false, "labelFlush": false}},
                "x2": {"field": "hi"},
                "yOffset": {"field": "s", "type": "nominal", "scale": {"domain": ["Telehealth only", "In-person only", "Telehealth and In-person"], "paddingOuter": 2.3, "paddingInner": 0}}
              }
            },
            {
              "transform": [{"filter": "datum.lo != null"}],
              "mark": {"type": "tick", "orient": "vertical", "color": "#aaa", "size": 5, "thickness": 1.5},
              "encoding": {
                "x": {"field": "lo", "type": "quantitative", "scale": {"domain": [0, 5], "nice": false, "zero": false}, "title": "Adjusted OR", "axis": {"values": [0, 0.5, 1, 1.5, 2, 2.5, 3, 3.5, 4, 4.5, 5], "labelOverlap": false, "labelBound": false, "labelFlush": false}},
                "yOffset": {"field": "s", "type": "nominal"}
              }
            },
            {
              "transform": [{"filter": "datum.lo != null"}],
              "mark": {"type": "tick", "orient": "vertical", "color": "#aaa", "size": 5, "thickness": 1.5},
              "encoding": {
                "x": {"field": "hi", "type": "quantitative", "scale": {"domain": [0, 5], "nice": false, "zero": false}, "title": "Adjusted OR", "axis": {"values": [0, 0.5, 1, 1.5, 2, 2.5, 3, 3.5, 4, 4.5, 5], "labelOverlap": false, "labelBound": false, "labelFlush": false}},
                "yOffset": {"field": "s", "type": "nominal"}
              }
            },
            {
              "mark": {"type": "square", "size": 125, "filled": true, "opacity": 1, "strokeWidth": 1.2},
              "encoding": {
                "x": {"field": "or", "type": "quantitative", "scale": {"domain": [0, 5], "nice": false, "zero": false}, "title": "Adjusted OR", "axis": {"values": [0, 0.5, 1, 1.5, 2, 2.5, 3, 3.5, 4, 4.5, 5], "labelOverlap": false, "labelBound": false, "labelFlush": false}},
                "yOffset": {"field": "s", "type": "nominal"},
                "color": {
                  "field": "s", "type": "nominal",
                  "scale": {"domain": ["Telehealth only", "In-person only", "Telehealth and In-person"], "range": ["#bccbe4", "#e26c6c", "#93d193"]},
                  "legend": null
                },
                "stroke": {
                  "field": "s", "type": "nominal",
                  "scale": {"domain": ["Telehealth only", "In-person only", "Telehealth and In-person"], "range": ["#6d7da0", "#ad4b4b", "#5a9b5a"]},
                  "legend": null
                }
              }
            }
          ]
        },
        {
          "width": 277,
          "height": 896,
          "title": "Hispanic",
          "data": {"name": "hispanic"},
          "encoding": {
            "y": {
              "field": "c", "type": "nominal",
              "scale": {"paddingInner": 0, "paddingOuter": 0.11, "domain": ["Telehealth vs In-person","Male vs Female","Age 40-64 vs 18-39","Age 65+ vs 18-39","Medicaid vs Commercial","Medicare vs Commercial","Uninsured vs Commercial","$50,000-100,000 vs <$50,000","$100,000+ vs <$50,000","New vs Established Patient","CCI 1-2 vs 0","CCI 3+ vs 0","Distance Q2 vs Q1","Distance Q3 vs Q1","Distance Q4 vs Q1","Cardiology vs Primary Care","Dermatology vs Primary Care","Endocrinology vs Primary Care","Genetics vs Primary Care","Mental Health vs Primary Care","OBGYN vs Primary Care","Oncology vs Primary Care","Pulmonology vs Primary Care","Jan-Mar, 2021 vs Apr-Jun, 2021","Jul-Sep, 2021 vs Apr-Jun, 2021","Oct-Dec, 2021 vs Apr-Jun, 2021","Jan-Mar, 2022 vs Apr-Jun, 2021","Apr-Jun, 2022 vs Apr-Jun, 2021","Medicaid*Telehealth","Medicare*Telehealth","Uninsured*Telehealth","Cardiology*Telehealth","Dermatology*Telehealth","Endocrinology*Telehealth","Genetics*Telehealth","Mental Health*Telehealth","OBGYN*Telehealth","Oncology*Telehealth","Pulmonology*Telehealth"]},
              "axis": {"labels": false, "ticks": false, "title": null, "domainColor": "#d4d4d4"}
            }
          },
          "layer": [
            {"data": {"name": "stripes"}, "mark": {"type": "rect", "color": "#f3f3f3"}},
            {
              "data": {"values": [{}]},
              "mark": {"type": "rule", "color": "#555", "strokeWidth": 1.3},
              "encoding": {
                "x": {"datum": 1, "type": "quantitative", "scale": {"domain": [0, 5], "nice": false, "zero": false}, "title": "Adjusted OR", "axis": {"values": [0, 0.5, 1, 1.5, 2, 2.5, 3, 3.5, 4, 4.5, 5], "labelOverlap": false, "labelBound": false, "labelFlush": false}},
                "y": {"datum": "Male vs Female", "type": "nominal", "bandPosition": 0},
                "y2": {"datum": "Pulmonology*Telehealth", "bandPosition": 1}
              }
            },
            {
              "transform": [{"filter": "datum.lo != null"}],
              "mark": {"type": "rule", "color": "#c6c6c6", "strokeWidth": 2},
              "encoding": {
                "x": {"field": "lo", "type": "quantitative", "scale": {"domain": [0, 5], "nice": false, "zero": false}, "title": "Adjusted OR", "axis": {"values": [0, 0.5, 1, 1.5, 2, 2.5, 3, 3.5, 4, 4.5, 5], "labelOverlap": false, "labelBound": false, "labelFlush": false}},
                "x2": {"field": "hi"},
                "yOffset": {"field": "s", "type": "nominal", "scale": {"domain": ["Telehealth only", "In-person only", "Telehealth and In-person"], "paddingOuter": 2.3, "paddingInner": 0}}
              }
            },
            {
              "transform": [{"filter": "datum.lo != null"}],
              "mark": {"type": "tick", "orient": "vertical", "color": "#aaa", "size": 5, "thickness": 1.5},
              "encoding": {
                "x": {"field": "lo", "type": "quantitative", "scale": {"domain": [0, 5], "nice": false, "zero": false}, "title": "Adjusted OR", "axis": {"values": [0, 0.5, 1, 1.5, 2, 2.5, 3, 3.5, 4, 4.5, 5], "labelOverlap": false, "labelBound": false, "labelFlush": false}},
                "yOffset": {"field": "s", "type": "nominal"}
              }
            },
            {
              "transform": [{"filter": "datum.lo != null"}],
              "mark": {"type": "tick", "orient": "vertical", "color": "#aaa", "size": 5, "thickness": 1.5},
              "encoding": {
                "x": {"field": "hi", "type": "quantitative", "scale": {"domain": [0, 5], "nice": false, "zero": false}, "title": "Adjusted OR", "axis": {"values": [0, 0.5, 1, 1.5, 2, 2.5, 3, 3.5, 4, 4.5, 5], "labelOverlap": false, "labelBound": false, "labelFlush": false}},
                "yOffset": {"field": "s", "type": "nominal"}
              }
            },
            {
              "mark": {"type": "square", "size": 125, "filled": true, "opacity": 1, "strokeWidth": 1.2},
              "encoding": {
                "x": {"field": "or", "type": "quantitative", "scale": {"domain": [0, 5], "nice": false, "zero": false}, "title": "Adjusted OR", "axis": {"values": [0, 0.5, 1, 1.5, 2, 2.5, 3, 3.5, 4, 4.5, 5], "labelOverlap": false, "labelBound": false, "labelFlush": false}},
                "yOffset": {"field": "s", "type": "nominal"},
                "color": {
                  "field": "s", "type": "nominal",
                  "scale": {"domain": ["Telehealth only", "In-person only", "Telehealth and In-person"], "range": ["#bccbe4", "#e26c6c", "#93d193"]},
                  "legend": null
                },
                "stroke": {
                  "field": "s", "type": "nominal",
                  "scale": {"domain": ["Telehealth only", "In-person only", "Telehealth and In-person"], "range": ["#6d7da0", "#ad4b4b", "#5a9b5a"]},
                  "legend": null
                }
              }
            }
          ]
        }
      ]
    }
  ]
}
